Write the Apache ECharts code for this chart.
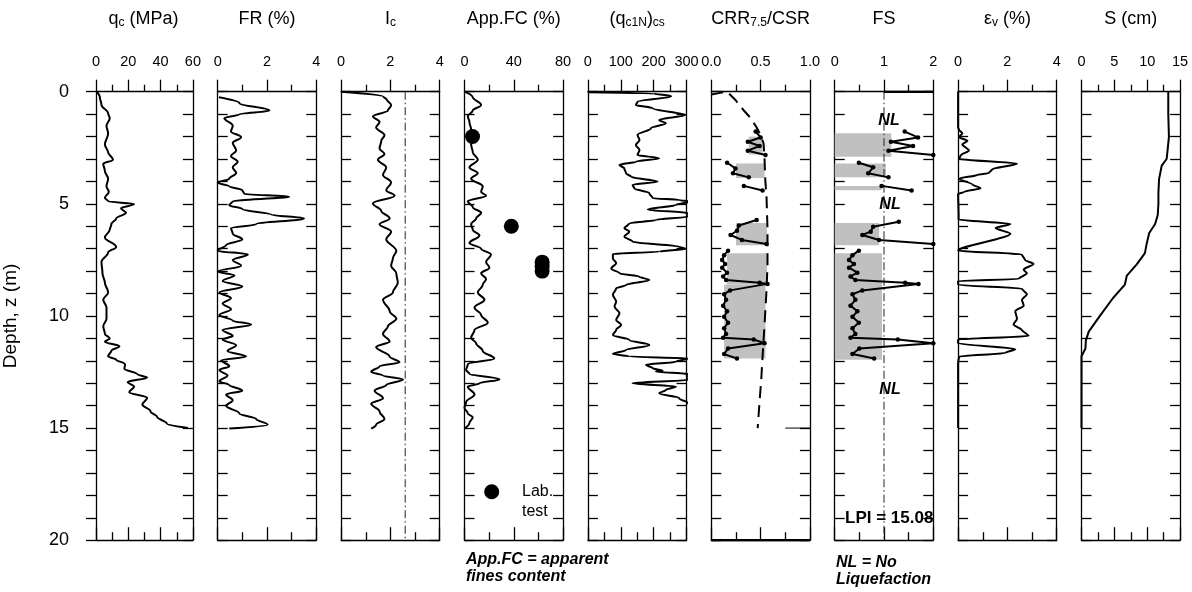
<!DOCTYPE html>
<html>
<head>
<meta charset="utf-8">
<script src="https://cdn.jsdelivr.net/npm/echarts@6.0.0/dist/echarts.min.js"></script>
<style>
  html, body { margin: 0; padding: 0; background: #fff; }
  #chart { width: 1192px; height: 592px; }
</style>
</head>
<body>
<div id="chart"></div>
<script>
// all curves are [depth (m), value]
const qc = [[0,0.4],[0.25,2.4],[0.59,3.4],[0.96,7.5],[1.18,8.5],[1.52,6.5],[1.86,7.5],[2.36,5.5],[2.7,7.5],[3.04,10.5],[3.21,4.5],[3.54,5.5],[3.88,7.5],[4.22,6.5],[4.47,7.9],[4.73,5.5],[4.89,7.5],[5.01,23.6],[5.2,15.5],[5.4,18.6],[5.65,12.5],[5.91,9.5],[6.16,8.5],[6.5,5.5],[6.92,12.5],[7.17,7.5],[7.59,3.4],[8.1,4],[8.52,5.5],[8.95,7.5],[9.28,4.5],[9.62,6.5],[10.13,6.5],[10.46,4.5],[10.8,5.5],[11.0,8.5],[11.15,5.5],[11.35,14.5],[11.55,9.5],[11.8,7.5],[11.95,12.5],[12.15,18],[12.35,17.6],[12.6,25.7],[12.75,31.7],[12.95,19.6],[13.15,23.6],[13.4,20.6],[13.65,31.7],[13.95,28.7],[14.25,33.7],[14.5,37.8],[14.8,43.8],[15.0,57]];
const fr = [[0.25,0.05],[0.51,0.88],[0.84,2.1],[1.01,0.88],[1.18,0.27],[1.52,0.61],[1.77,0.54],[2.03,0.95],[2.28,0.61],[2.62,0.75],[2.87,0.54],[3.12,0.81],[3.38,0.61],[3.63,0.75],[3.88,0.47],[4.05,0.0],[4.22,0.47],[4.39,1.0],[4.56,1.08],[4.68,2.9],[4.89,0.61],[5.06,0.47],[5.23,1.0],[5.49,2.2],[5.65,3.5],[5.91,1.56],[6.08,0.54],[6.33,0.61],[6.58,1.0],[6.84,0.34],[7.09,0.0],[7.26,1.22],[7.51,0.61],[7.76,0.95],[8.02,0.0],[8.19,0.68],[8.44,0.2],[8.69,1.0],[8.95,0.07],[9.2,0.54],[9.45,0.2],[9.7,0.54],[9.96,0.07],[10.21,0.61],[10.38,1.36],[10.63,0.2],[10.89,0.61],[11.05,0.2],[11.31,0.75],[11.56,0.4],[11.81,1.15],[11.98,0.14],[12.24,0.47],[12.41,0.07],[12.66,0.4],[12.91,0.07],[13.08,0.47],[13.33,1.0],[13.5,0.34],[13.76,0.61],[14.01,0.34],[14.35,0.88],[14.6,1.56],[14.85,2.03],[15.02,0.47]];
const ic = [[0,0],[0.22,1.72],[0.35,1.85],[0.6,2.03],[0.84,1.9],[1.1,1.29],[1.35,1.56],[1.6,1.42],[1.94,1.76],[2.19,1.63],[2.53,1.56],[2.78,1.76],[3.04,1.49],[3.38,1.83],[3.71,1.7],[4.05,2.03],[4.39,1.83],[4.64,2.17],[4.98,1.29],[5.32,1.63],[5.65,1.97],[5.91,1.56],[6.24,2.03],[6.58,1.83],[7.09,2.24],[7.43,2.1],[7.76,2.03],[8.1,2.24],[8.52,2.3],[8.95,2.1],[9.28,1.7],[9.79,1.97],[10.13,2.24],[10.46,1.9],[10.8,1.7],[11.14,1.97],[11.39,1.42],[11.81,1.97],[12.07,2.37],[12.24,1.56],[12.49,1.22],[12.66,1.7],[12.83,2.51],[13.08,1.83],[13.33,1.36],[13.67,1.7],[13.92,1.22],[14.26,1.56],[14.6,1.76],[14.85,1.42],[15.02,1.22]];
const icLimit = 2.6;
const appFc = [[0,0],[0.25,6.7],[0.59,13.5],[0.84,6.7],[1.1,2.7],[1.35,4.0],[1.69,5.4],[2.03,6.7],[2.36,5.4],[2.7,6.7],[3.04,10.8],[3.38,4.0],[3.63,10.8],[3.88,5.4],[4.22,14.8],[4.47,13.5],[4.64,17.5],[4.89,2.7],[5.15,6.7],[5.4,13.5],[5.65,9.4],[5.91,5.4],[6.16,6.7],[6.41,12.1],[6.75,4.0],[7.0,13.5],[7.26,21.5],[7.59,17.5],[7.85,20.2],[8.1,13.5],[8.35,17.5],[8.61,14.8],[8.95,10.8],[9.28,16.2],[9.62,8.1],[9.96,13.5],[10.3,18.9],[10.63,8.1],[10.97,5.4],[11.22,9.4],[11.56,14.8],[11.9,24.2],[12.15,2.7],[12.41,1.3],[12.58,4],[12.83,28.3],[13.0,12.1],[13.16,2.7],[13.5,8.1],[13.84,1.3],[14.09,0],[14.35,2.7],[14.52,6.7],[14.77,4.0],[15.02,0]];
const labFc = [[2.0,6.5],[6.0,38],[7.6,63],[7.8,63],[8.0,63]];
const qc1ncs = [[0.02,0],[0.08,200],[0.2,253],[0.45,151],[0.59,146],[0.74,197],[1.04,296],[1.26,217],[1.41,237],[1.63,192],[1.93,151],[2.15,157],[2.38,146],[2.6,157],[2.82,151],[2.97,217],[3.12,146],[3.27,96],[3.42,111],[3.64,116],[3.79,131],[4.01,212],[4.16,136],[4.31,141],[4.53,187],[4.75,197],[4.83,278],[4.9,310],[5.05,268],[5.25,182],[5.42,305],[5.57,305],[5.72,207],[5.87,126],[6.09,111],[6.24,126],[6.46,111],[6.69,136],[6.91,278],[7.01,296],[7.13,217],[7.24,76],[7.43,76],[7.65,86],[7.88,71],[8.1,96],[8.25,157],[8.4,187],[8.62,116],[8.77,86],[9.06,76],[9.36,86],[9.58,81],[9.88,96],[10.18,86],[10.4,101],[10.62,86],[10.85,76],[11.07,126],[11.29,187],[11.52,116],[11.69,76],[11.81,126],[11.89,305],[12.04,268],[12.18,177],[12.33,197],[12.44,227],[12.48,207],[12.59,305],[12.85,305],[13.0,136],[13.15,268],[13.3,237],[13.45,217],[13.67,278],[13.89,305],[14.07,320]];
const csr = [[0.12,0.0],[0.0,0.16],[0.37,0.245],[0.84,0.33],[1.18,0.4],[1.6,0.46],[1.94,0.5],[2.3,0.53],[3.0,0.54],[3.9,0.547],[4.7,0.56],[6.1,0.57],[7.8,0.57],[9.1,0.557],[10.6,0.537],[11.8,0.52],[12.8,0.507],[13.8,0.49],[15.0,0.47]];
const crrSegments = [
  [[1.78,0.45],[2.04,0.5],[2.23,0.37],[2.42,0.49],[2.63,0.37],[2.82,0.55]],
  [[3.17,0.16],[3.42,0.245],[3.64,0.22],[3.82,0.38]],
  [[4.2,0.33],[4.41,0.52]],
  [[5.72,0.46],[5.97,0.28],[6.2,0.26],[6.39,0.195],[6.61,0.31],[6.79,0.56]],
  [[7.09,0.17],[7.29,0.13],[7.51,0.11],[7.68,0.14],[7.85,0.11],[8.07,0.16],[8.24,0.12],[8.4,0.15],[8.52,0.49],[8.57,0.57],[8.86,0.19],[9.03,0.13],[9.28,0.15],[9.54,0.12],[9.79,0.16],[10.04,0.13],[10.3,0.17],[10.55,0.13],[10.8,0.15],[10.97,0.12],[11.05,0.43],[11.22,0.54],[11.45,0.17],[11.7,0.13],[11.9,0.26]]
];
// [from value, to value, from depth, to depth]
const crrBands = [[0.38,0.52,2.0,2.8],[0.25,0.54,3.2,3.85],[0.25,0.565,5.85,6.85],[0.16,0.565,7.2,8.6],[0.13,0.55,8.6,11.9]];
const fsSegments = [
  [[1.78,1.42],[2.04,1.69],[2.23,1.14],[2.42,1.59],[2.63,1.09],[2.82,2.0]],
  [[3.17,0.49],[3.37,0.78],[3.64,0.68],[3.82,1.09]],
  [[4.2,0.95],[4.41,1.56]],
  [[5.8,1.3],[6.02,0.78],[6.24,0.73],[6.39,0.56],[6.61,0.9],[6.79,2.0]],
  [[7.09,0.49],[7.29,0.36],[7.51,0.29],[7.68,0.39],[7.85,0.29],[8.07,0.46],[8.24,0.32],[8.4,0.42],[8.52,1.43],[8.57,1.7],[8.86,0.56],[9.03,0.36],[9.28,0.42],[9.54,0.32],[9.79,0.46],[10.04,0.36],[10.3,0.49],[10.55,0.36],[10.8,0.42],[10.97,0.32],[11.05,1.28],[11.22,2.0],[11.45,0.5],[11.7,0.36],[11.9,0.8]]
];
const fsBands = [[0,1.15,1.85,2.9],[0,1.04,3.2,3.82],[0,0.95,4.2,4.4],[0,0.9,5.85,6.85],[0,0.96,7.2,11.95]];
const fsLimit = 1;
const fsCapTop = [[0,1.0],[0,2.0]];
const crrCapBottom = [[20,0],[20,1.0]];
const crrMark15 = [[15,0.75],[15,1.0]];
const epsV = [[0,0],[1.0,0],[1.6,0],[1.7,0.04],[1.86,0.17],[2.03,0.04],[2.19,0.38],[2.36,0.17],[2.62,0.44],[2.84,0.1],[3.0,0.04],[3.21,2.39],[3.46,1.38],[3.63,1.25],[3.71,0.78],[3.88,0.04],[4.14,0.58],[4.3,0.91],[4.47,0.24],[4.56,0],[5.5,0.02],[5.7,0.02],[5.9,2.12],[6.08,1.52],[6.33,2.12],[7.09,0],[7.26,2.59],[7.51,2.72],[7.68,3.06],[7.93,2.66],[8.1,2.79],[8.35,2.46],[8.44,0],[8.61,0],[8.78,2.59],[9.03,2.79],[9.28,2.59],[9.54,2.66],[9.79,2.32],[10.13,2.39],[10.38,2.25],[10.63,2.59],[10.89,2.86],[11.05,0],[11.22,0],[11.48,2.32],[11.65,1.92],[11.81,0.04],[12.07,0],[15.0,0]];
const settle = [[0,13.2],[1.0,13.2],[2.0,13.3],[2.6,13.1],[3.0,12.95],[3.3,12.2],[3.9,11.8],[4.5,11.7],[5.0,11.7],[5.5,11.6],[5.9,11.2],[6.3,10.3],[6.8,9.9],[7.2,9.65],[7.7,8.4],[8.2,6.9],[8.6,6.6],[9.2,4.8],[10.0,2.8],[10.7,1.1],[11.1,0.66],[11.45,0.6],[11.8,0],[15.0,0]];

const FONT = '"Liberation Sans", Arial, sans-serif';
const panels = [
  { min: 0, max: 60, step: 20, title: '{a|q}{s|c}{a| (MPa)}' },
  { min: 0, max: 4, step: 2, title: '{a|FR (%)}' },
  { min: 0, max: 4, step: 2, title: '{a|I}{s|c}' },
  { min: 0, max: 80, step: 40, title: '{a|App.FC (%)}' },
  { min: 0, max: 300, step: 100, title: '{a|(q}{s|c1N}{a|)}{s|cs}' },
  { min: 0, max: 1, step: 0.5, title: '{a|CRR}{s|7.5}{a|/CSR}', fmt: v => v.toFixed(1) },
  { min: 0, max: 2, step: 1, title: '{a|FS}' },
  { min: 0, max: 4, step: 2, title: '{a|ε}{s|v}{a| (%)}' },
  { min: 0, max: 15, step: 5, title: '{a|S (cm)}' }
];
const left0 = 94.3, pitch = 123.4, panelW = 98.6, top0 = 91.7, panelH = 448.5;

const black = { color: '#000', width: 1.3 };
const grids = [], xAxes = [], yAxes = [], series = [], graphics = [];

panels.forEach((p, i) => {
  const left = left0 + i * pitch;
  grids.push({ left: left, top: top0, width: panelW, height: panelH });
  const xc = { gridIndex: i, type: 'value', min: p.min, max: p.max, interval: p.step,
    axisLine: { onZero: false, lineStyle: black }, splitLine: { show: false } };
  xAxes.push(Object.assign({}, xc, { position: 'top',
    axisTick: { inside: false, length: 12, lineStyle: black },
    minorTick: { show: true, splitNumber: 2, length: 7, lineStyle: black },
    axisLabel: { margin: 22, fontSize: 14.5, fontFamily: FONT, color: '#000', formatter: p.fmt } }));
  xAxes.push(Object.assign({}, xc, { position: 'bottom',
    axisTick: { inside: true, length: 13, lineStyle: black },
    minorTick: { show: true, splitNumber: 2, length: 8, lineStyle: black },
    axisLabel: { show: false } }));
  const yc = { gridIndex: i, type: 'value', inverse: true, min: 0, max: 20, interval: 1,
    axisLine: { onZero: false, lineStyle: black }, splitLine: { show: false } };
  const yl = Object.assign({}, yc, { position: 'left',
    axisTick: { inside: i !== 0, length: 10, lineStyle: black },
    axisLabel: { show: i === 0, margin: 27, fontSize: 18, fontFamily: FONT, color: '#000',
      formatter: v => (v % 5 === 0 ? String(v) : '') } });
  if (i === 0) {
    Object.assign(yl, { name: 'Depth, z (m)', nameLocation: 'middle', nameGap: 76, nameRotate: 90,
      nameTextStyle: { fontSize: 19, fontFamily: FONT, color: '#000' } });
  }
  yAxes.push(yl);
  yAxes.push(Object.assign({}, yc, { position: 'right',
    axisTick: { inside: true, length: 10, lineStyle: black }, axisLabel: { show: false } }));

  graphics.push({ type: 'text', x: left + panelW / 2, y: 18, style: {
    text: p.title, align: 'center', verticalAlign: 'middle', fill: '#000',
    rich: {
      a: { fontSize: 18, fontFamily: FONT, lineHeight: 21, verticalAlign: 'bottom', fill: '#000' },
      s: { fontSize: 12, fontFamily: FONT, lineHeight: 9, verticalAlign: 'bottom', fill: '#000' }
    } } });
});

const toXY = arr => arr.map(([d, v]) => [v, d]);
function curve(i, data, extra) {
  return Object.assign({ type: 'line', xAxisIndex: 2 * i, yAxisIndex: 2 * i, data: toXY(data),
    symbol: 'none', smooth: 0.35, smoothMonotone: 'y', z: 3, silent: true,
    lineStyle: { color: '#000', width: 2 } }, extra || {});
}
function dotted(i, data) {
  return curve(i, data, { smooth: false, smoothMonotone: null, symbol: 'circle', symbolSize: 4.5,
    showSymbol: true, itemStyle: { color: '#000' }, z: 4 });
}
function bands(i, data) {
  return { type: 'custom', xAxisIndex: 2 * i, yAxisIndex: 2 * i, data: data, z: 1, silent: true,
    encode: { x: [0, 1], y: [2, 3] },
    renderItem: (params, api) => {
      const a = api.coord([api.value(0), api.value(2)]);
      const b = api.coord([api.value(1), api.value(3)]);
      return { type: 'rect', shape: { x: a[0], y: a[1], width: b[0] - a[0], height: b[1] - a[1] },
        style: { fill: '#c0c0c0' } };
    } };
}
const dashDot = { color: '#222', width: 1, type: [8, 3, 1.5, 3] };
const plain = w => ({ smooth: false, lineStyle: { color: '#000', width: w } });

series.push(curve(0, qc));
series.push(curve(1, fr));
series.push(curve(2, ic));
series.push(curve(2, [[0, icLimit], [20, icLimit]], { smooth: false, lineStyle: dashDot, z: 2 }));
series.push(curve(3, appFc));
series.push({ type: 'scatter', xAxisIndex: 6, yAxisIndex: 6, data: toXY(labFc), symbolSize: 15,
  itemStyle: { color: '#000', opacity: 1 }, z: 4, silent: true });
series.push(curve(4, qc1ncs));
series.push(bands(5, crrBands));
series.push(curve(5, csr, { smooth: false, lineStyle: { color: '#000', width: 2, type: [12, 7] } }));
crrSegments.forEach(s => series.push(dotted(5, s)));
series.push(curve(5, crrMark15, plain(1)));
series.push(curve(5, crrCapBottom, plain(2.5)));
series.push(bands(6, fsBands));
series.push(curve(6, [[0, fsLimit], [20, fsLimit]], { smooth: false, lineStyle: dashDot, z: 2 }));
fsSegments.forEach(s => series.push(dotted(6, s)));
series.push(curve(6, fsCapTop, plain(2.5)));
series.push(curve(7, epsV, { smooth: 0.25 }));
series.push(curve(8, settle, { smooth: false }));

const note = (x, y, text, font, align) => ({ type: 'text', x: x, y: y, z: 10,
  style: { text: text, font: font, fill: '#000', align: align || 'left', verticalAlign: 'middle' } });
const bi = 'italic bold 16px ' + FONT;
const nl = 'italic bold 16px ' + FONT;
graphics.push(note(466, 560, 'App.FC = apparent', bi));
graphics.push(note(466, 577, 'fines content', bi));
graphics.push(note(836, 563, 'NL = No', bi));
graphics.push(note(836, 580, 'Liquefaction', bi));
graphics.push(note(889, 121, 'NL', nl, 'center'));
graphics.push(note(890, 205, 'NL', nl, 'center'));
graphics.push(note(890, 390, 'NL', nl, 'center'));
graphics.push(note(845, 518, 'LPI = 15.08', 'bold 17px ' + FONT));
graphics.push({ type: 'circle', shape: { cx: 491.7, cy: 491.7, r: 7.5 }, style: { fill: '#000' }, z: 10 });
graphics.push(note(522, 492, 'Lab.', '16px ' + FONT));
graphics.push(note(522, 512, 'test', '16px ' + FONT));

const chart = echarts.init(document.getElementById('chart'));
chart.setOption({
  animation: false,
  backgroundColor: '#fff',
  grid: grids,
  xAxis: xAxes,
  yAxis: yAxes,
  series: series,
  graphic: graphics
});
</script>
</body>
</html>
